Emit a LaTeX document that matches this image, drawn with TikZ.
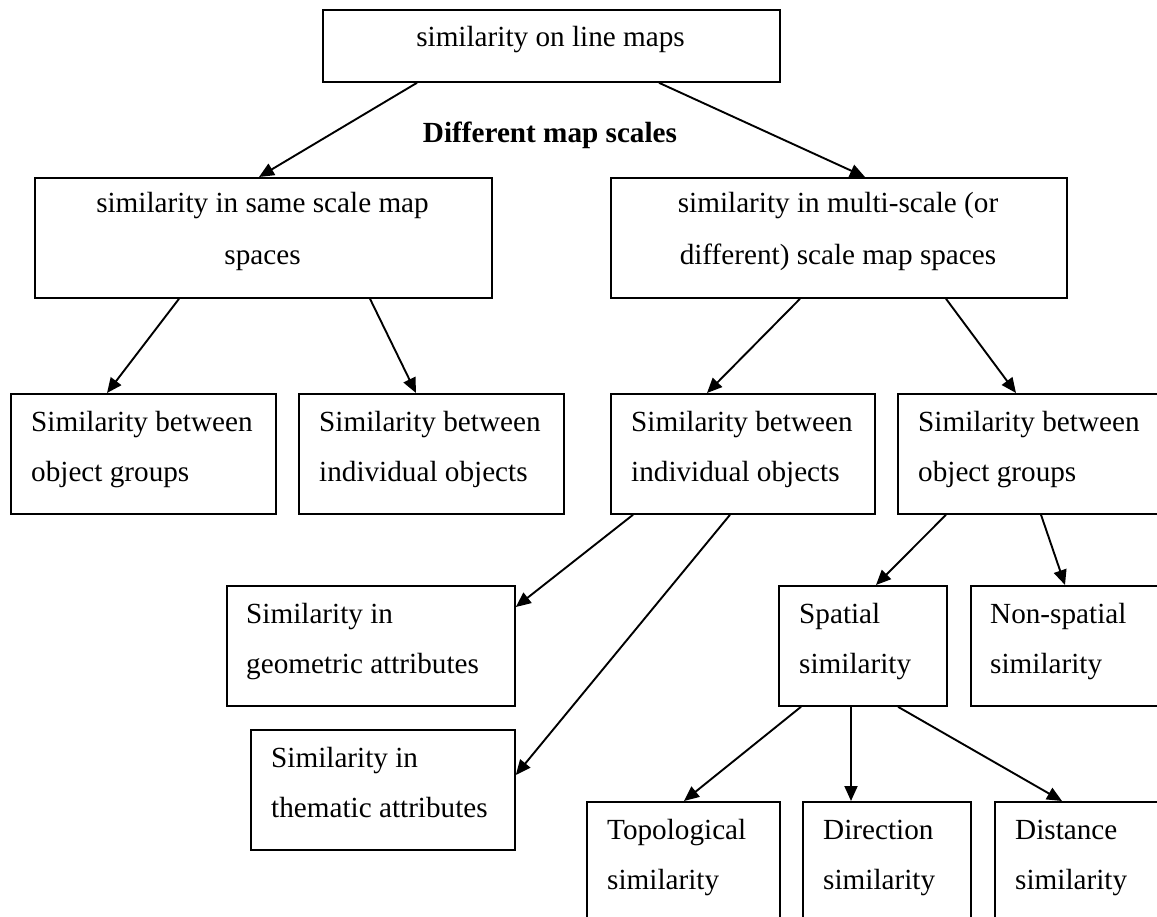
\documentclass[tikz,border=0pt]{standalone}
\usepackage{fontspec}
\setmainfont{Liberation Serif}
\usetikzlibrary{arrows.meta}
\begin{document}
\begin{tikzpicture}[x=1pt,y=-1pt,
  box/.style={draw=black, line width=1.8pt, rectangle, inner sep=0pt, anchor=north west},
  txt/.style={inner sep=0pt, font=\fontsize{29.2}{35}\selectfont},
  arr/.style={line width=1.9pt, -{Triangle[length=15pt,width=13pt]}, shorten >=0pt}
]
\path[use as bounding box, fill=white] (0,0) rectangle (1157,917);
\clip (0,0) rectangle (1157,917);

% boxes
\node[box, minimum width=457pt, minimum height=72pt] (top) at (322,9) {};
\node[box, minimum width=457pt, minimum height=120pt] (same) at (34,177) {};
\node[box, minimum width=456pt, minimum height=120pt] (multi) at (610,177) {};
\node[box, minimum width=265pt, minimum height=120pt] (L1) at (10,393) {};
\node[box, minimum width=265pt, minimum height=120pt] (L2) at (298,393) {};
\node[box, minimum width=264pt, minimum height=120pt] (C1) at (610,393) {};
\node[box, minimum width=280pt, minimum height=120pt] (C2) at (897,393) {};
\node[box, minimum width=288pt, minimum height=120pt] (geo) at (226,585) {};
\node[box, minimum width=168pt, minimum height=120pt] (spatial) at (778,585) {};
\node[box, minimum width=220pt, minimum height=120pt] (nonsp) at (970,585) {};
\node[box, minimum width=264pt, minimum height=120pt] (them) at (250,729) {};
\node[box, minimum width=193pt, minimum height=140pt] (topo) at (586,801) {};
\node[box, minimum width=168pt, minimum height=140pt] (dir) at (802,801) {};
\node[box, minimum width=200pt, minimum height=140pt] (dist) at (994,801) {};

% texts
\node[txt, anchor=base] (topt) at (550.5,47) {similarity on line maps};
\node[txt, anchor=base, font=\fontsize{29.2}{35}\selectfont\bfseries] (lab) at (550,143) {Different map scales};
\node[txt, anchor=base] (samet1) at (262.5,213) {similarity in same scale map};
\node[txt, anchor=base] (samet2) at (262.5,265) {spaces};
\node[txt, anchor=base] (multit1) at (838,213) {similarity in multi-scale (or};
\node[txt, anchor=base] (multit2) at (838,265) {different) scale map spaces};
\node[txt, anchor=base west] (L1t1) at (31,431) {Similarity between};
\node[txt, anchor=base west] (L1t2) at (31,481) {object groups};
\node[txt, anchor=base west] (L2t1) at (319,431) {Similarity between};
\node[txt, anchor=base west] (L2t2) at (319,481) {individual objects};
\node[txt, anchor=base west] (C1t1) at (631,431) {Similarity between};
\node[txt, anchor=base west] (C1t2) at (631,481) {individual objects};
\node[txt, anchor=base west] (C2t1) at (918,431) {Similarity between};
\node[txt, anchor=base west] (C2t2) at (918,481) {object groups};
\node[txt, anchor=base west] (geot1) at (246,623) {Similarity in};
\node[txt, anchor=base west] (geot2) at (246,673) {geometric attributes};
\node[txt, anchor=base west] (spt1) at (799,623) {Spatial};
\node[txt, anchor=base west] (spt2) at (799,673) {similarity};
\node[txt, anchor=base west] (nst1) at (990,623) {Non-spatial};
\node[txt, anchor=base west] (nst2) at (990,673) {similarity};
\node[txt, anchor=base west] (tht1) at (271,767) {Similarity in};
\node[txt, anchor=base west] (tht2) at (271,817) {thematic attributes};
\node[txt, anchor=base west] (tot1) at (607,839) {Topological};
\node[txt, anchor=base west] (tot2) at (607,889) {similarity};
\node[txt, anchor=base west] (dit1) at (823,839) {Direction};
\node[txt, anchor=base west] (dit2) at (823,889) {similarity};
\node[txt, anchor=base west] (dst1) at (1015,839) {Distance};
\node[txt, anchor=base west] (dst2) at (1015,889) {similarity};

% connectors
\draw[arr] ([xshift=95pt]top.south west) -- ([xshift=225pt]same.north west);
\draw[arr] ([xshift=337pt]top.south west) -- ([xshift=255pt]multi.north west);
\draw[arr] ([xshift=145pt]same.south west) -- ([xshift=97pt]L1.north west);
\draw[arr] ([xshift=336pt]same.south west) -- ([xshift=118pt]L2.north west);
\draw[arr] ([xshift=190pt]multi.south west) -- ([xshift=97pt]C1.north west);
\draw[arr] ([xshift=336pt]multi.south west) -- ([xshift=119pt]C2.north west);
\draw[arr] ([xshift=23pt]C1.south west) -- ([yshift=-22pt]geo.north east);
\draw[arr] ([xshift=120pt]C1.south west) -- ([yshift=-46pt]them.north east);
\draw[arr] ([xshift=49pt]C2.south west) -- ([xshift=98pt]spatial.north west);
\draw[arr] ([xshift=144pt]C2.south west) -- ([xshift=95pt]nonsp.north west);
\draw[arr] ([xshift=23pt]spatial.south west) -- ([xshift=98pt]topo.north west);
\draw[arr] ([xshift=73pt]spatial.south west) -- ([xshift=49pt]dir.north west);
\draw[arr] ([xshift=120pt]spatial.south west) -- ([xshift=68pt]dist.north west);
\end{tikzpicture}
\end{document}
